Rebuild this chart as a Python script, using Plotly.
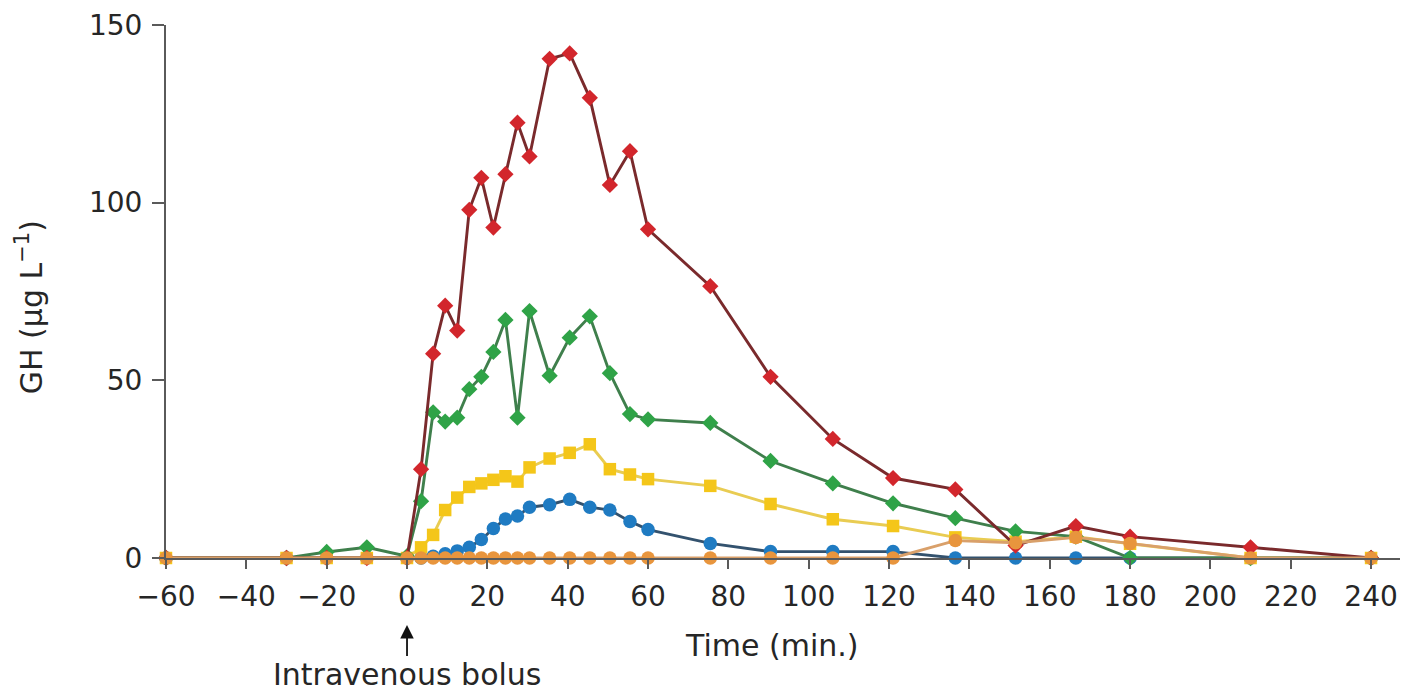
import plotly.graph_objects as go

# ---- data ----
time_min = [-60, -30, -20, -10, 0, 3.5, 6.5, 9.5, 12.5, 15.5, 18.5, 21.5, 24.5, 27.5, 30.5,
            35.5, 40.5, 45.5, 50.5, 55.5, 60, 75.5, 90.5, 106, 121, 136.5, 151.5, 166.5,
            180, 210, 240]

gh_red = [0, 0, 0, 0, 0, 25, 57.5, 71, 64, 98, 107, 93, 108, 122.5, 113,
          140.5, 142, 129.5, 105, 114.5, 92.5, 76.5, 51, 33.5, 22.5, 19.3, 3.5, 9,
          6, 3, 0]
gh_green = [0, 0, 1.7, 3, 0.5, 16, 41, 38.4, 39.5, 47.5, 51, 58, 67, 39.5, 69.5,
            51.3, 62, 68, 52, 40.5, 39, 38, 27.3, 21, 15.4, 11.2, 7.5, 6,
            0, 0, 0]
gh_yellow = [0, 0, 0, 0, 0, 3, 6.5, 13.5, 17, 20, 21, 22, 23, 21.5, 25.5,
             28, 29.6, 32, 25, 23.5, 22.2, 20.3, 15.2, 10.9, 9, 5.8, 4.6, 6,
             4, 0, 0]
gh_blue = [0, 0, 0, 0, 0, 0, 0.5, 1.2, 2, 3, 5.2, 8.3, 11, 11.8, 14.3,
           15, 16.5, 14.3, 13.5, 10.3, 8, 4.1, 1.8, 1.8, 1.8, 0, 0, 0,
           0, 0, 0]
gh_orange = [0, 0, 0, 0, 0, 0, 0, 0, 0, 0, 0, 0, 0, 0, 0,
             0, 0, 0, 0, 0, 0, 0, 0, 0, 0, 4.9, 4.3, 5.8,
             4.1, 0, 0]

x_ticks = [-60, -40, -20, 0, 20, 40, 60, 80, 100, 120, 140, 160, 180, 200, 220, 240]
y_ticks = [0, 50, 100, 150]

FONT = "DejaVu Sans"
TXT = "#262626"

series = [
    # (values, line colour, marker colour, symbol, size)
    (gh_blue, "#33526e", "#1f7bc2", "circle", 13.5),
    (gh_yellow, "#e9cc52", "#f4c619", "square", 12.5),
    (gh_green, "#3f7f4c", "#2fa347", "diamond", 12.5),
    (gh_red, "#7a2a2c", "#d2262c", "diamond", 12.5),
    (gh_orange, "#d9a06a", "#e8953d", "circle", 13.5),
]

fig = go.Figure()
for vals, lc, mc, sym, sz in series:
    fig.add_trace(go.Scatter(
        x=time_min, y=vals, mode="lines+markers",
        line=dict(color=lc, width=2.9),
        marker=dict(color=mc, symbol=sym, size=sz, line=dict(width=0)),
        cliponaxis=False, showlegend=False,
    ))

fig.update_layout(
    width=1408, height=692,
    margin=dict(l=166, r=8, t=25, b=134),
    paper_bgcolor="white", plot_bgcolor="white",
    font=dict(family=FONT, color=TXT, size=28),
    xaxis=dict(
        range=[-60, 247.2], tickvals=x_ticks, showgrid=False, zeroline=False,
        showline=True, linecolor="#5a5a5a", linewidth=2,
        ticks="outside", ticklen=9, tickwidth=1.6, tickcolor="#5a5a5a",
        tickfont=dict(family=FONT, size=28, color=TXT), ticklabelstandoff=3,
    ),
    yaxis=dict(
        range=[0, 150], tickvals=y_ticks, showgrid=False, zeroline=False,
        showline=True, linecolor="#5a5a5a", linewidth=2,
        ticks="outside", ticklen=12, tickwidth=1.6, tickcolor="#5a5a5a",
        tickfont=dict(family=FONT, size=28, color=TXT), ticklabelstandoff=4,
    ),
    annotations=[
        dict(text="Time (min.)", x=0.4903, y=-0.165, xref="paper", yref="paper",
             xanchor="center", yanchor="middle", showarrow=False,
             font=dict(family=FONT, size=30, color=TXT)),
        dict(text="Intravenous bolus", x=0, y=-0.1257, xref="x", yref="paper",
             showarrow=True, arrowhead=2, arrowsize=1.5, arrowwidth=1.8,
             arrowcolor="#111111", ax=0, ay=50, standoff=0,
             font=dict(family=FONT, size=30, color=TXT)),
        dict(text="GH (μg L<sup>−1</sup>)", x=-0.110, y=0.471, xref="paper", yref="paper",
             textangle=-90, xanchor="center", yanchor="middle", showarrow=False,
             font=dict(family=FONT, size=30, color=TXT)),
    ],
)

fig.write_html(
    "out.html",
    config={"displayModeBar": False},
    post_script="document.body.style.margin='0';document.body.style.overflow='hidden';",
)
